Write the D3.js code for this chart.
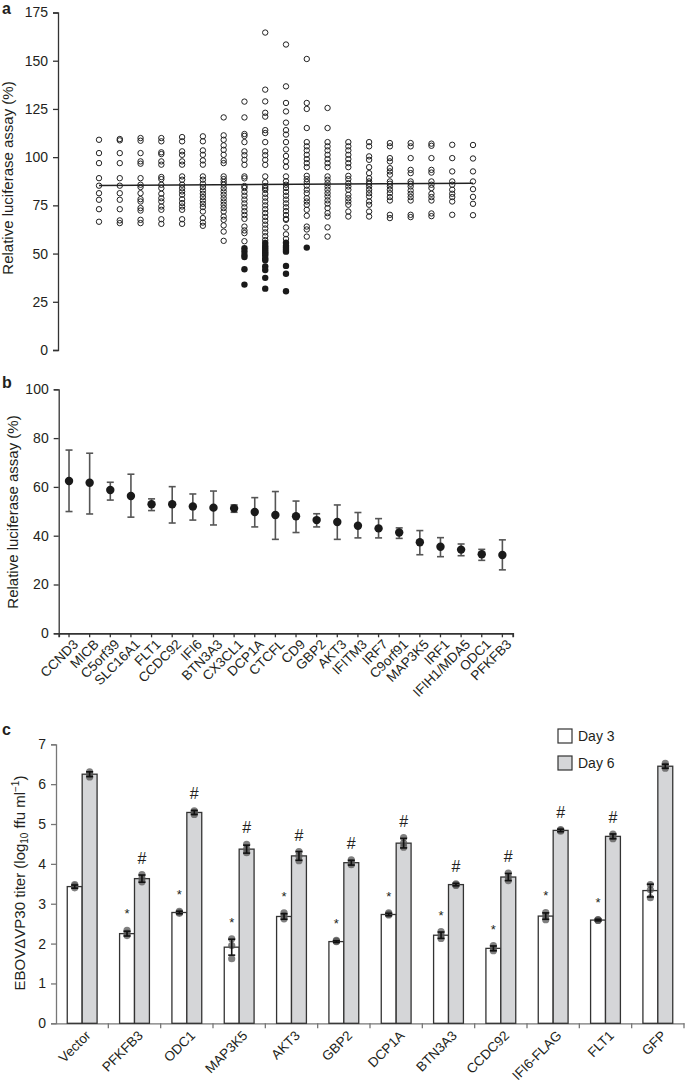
<!DOCTYPE html>
<html><head><meta charset="utf-8">
<script src="https://cdn.jsdelivr.net/npm/d3@7"></script>
<style>
body{margin:0;background:#fff;}
svg text{font-family:"Liberation Sans",Arial,Helvetica,sans-serif;fill:#231f20;}
</style></head>
<body><svg id="chart" width="685" height="1083"></svg>
<script>
// ---------- Panel a data ----------
const aTicks = [0,25,50,75,100,125,150,175];
const aOpen = [
 [109.0,102.1,96.9,89.1,85.2,81.3,77.9,73.0,66.5],
 [109.4,108.7,102.1,96.9,89.1,85.2,81.3,77.9,73.0,67.2,65.8],
 [109.9,108.5,102.1,97.8,96.6,89.1,85.7,84.5,81.3,78.2,77.0,73.6,72.3,67.5,65.8],
 [109.9,108.2,102.5,101.6,97.8,96.1,89.7,88.6,85.7,83.9,81.0,78.7,77.0,74.4,72.7,67.8,65.4],
 [110.4,108.2,103.0,101.2,97.8,96.1,90.0,88.3,85.7,83.9,82.2,80.5,78.2,76.2,74.4,72.7,67.8,65.4],
 [110.8,108.2,103.5,101.2,98.3,96.1,90.0,88.3,86.2,84.5,82.7,81.0,79.3,77.5,75.8,74.1,71.8,68.4,66.1,64.4],
 [120.6,111.3,109.0,106.1,103.8,101.2,98.3,96.9,90.0,88.6,87.1,85.7,83.9,82.2,80.5,78.7,77.0,75.3,73.6,71.8,69.2,67.5,64.6,61.4,56.6],
 [128.8,120.6,112,111,107.8,103,101,98.6,96,90,89,85,84,82,80,78,76,74,72,70,68,64,62,60.6,56.4],
 [164.6,135,128.9,123,121,114,112.5,107.8,103,101,98.6,96,90,87,85,84,83,81,79,77,75,73,71,69,67,65,63,61,59,57],
 [158.4,136.7,128.1,123.7,117.9,114,111.7,107.8,104,100.6,97.8,95,90,87.5,85.7,84,82,80,78,76,74,72,70,68,67.5,63.5,60,57.6],
 [150.9,128.1,125,115.1,107.8,105.6,103.5,101.2,99.0,96.9,94.8,90.3,88.6,87.1,85.2,83.1,81.3,78.7,77.0,75.3,72.7,69.6,64.0,62.5,58.8],
 [125.5,115.1,107.8,105.6,103.5,101.2,99.0,96.9,94.8,90,88.3,86.5,84.8,83.1,81.3,79.6,77.6,75.9,73.6,71.0,69.2,63.6,58.8],
 [107.8,105.6,103.5,101.2,99.0,96.9,94.8,90.3,88.6,86.5,84.8,83.1,80.5,78.7,77.0,75.3,71.8,69.2],
 [107.8,105.6,100.4,98.6,94.8,91.7,89.1,87.4,86.2,84.8,83.1,81.3,79.6,77.0,75.3,71.8,69.2],
 [107.3,105.6,99.5,97.8,94.3,92.6,90.9,87.4,86.2,84.8,83.1,81.3,79.3,77.5,70.1,68.4],
 [107.3,105.6,99.5,93.4,91.7,87.4,86.2,84.8,82.7,81.0,79.3,77.5,70.1,68.9],
 [107.0,105.9,99.5,93.4,92.0,87.4,85.7,84.0,81.0,79.3,77.5,70.8,69.4],
 [106.4,99.5,92.6,87.4,85.7,83.1,81.0,79.3,77.0,70.1],
 [106.3,99.3,92.6,87.4,83.4,79.4,75.8,69.9]
];
const aFilled = [
 [],[],[],[],[],[],[],
 [52.8,51.1,49.3,48.2,41.9,33.9],
 [55.5,54,53,52,51,50,49,47.5,46.5,43.3,41.5,37.4,31.8],
 [55.6,54,53,52,51,43.6,39.5,30.5],
 [53.1],
 [],[],[],[],[],[],[],[]
];
const aLineEnds = [85.3, 86.5];

// ---------- Panel b data ----------
const bGenes = ["CCND3","MICB","C5orf39","SLC16A1","FLT1","CCDC92","IFI6","BTN3A3","CX3CL1","DCP1A","CTCFL","CD9","GBP2","AKT3","IFITM3","IRF7","C9orf91","MAP3K5","IRF1","IFIH1/MDA5","ODC1","PFKFB3"];
const bMean = [62.4,61.7,58.7,56.3,52.9,52.9,52.0,51.5,51.2,49.7,48.5,48.0,46.4,45.6,44.1,43.0,41.3,37.3,35.5,34.3,32.4,32.1];
const bHigh = [75.1,73.8,61.9,65.2,55.1,60.1,57.1,58.3,52.6,55.6,58.1,54.2,49.0,52.6,49.5,47.0,43.2,42.1,39.2,36.6,34.4,38.3];
const bLow  = [49.9,48.9,54.6,47.6,50.3,45.2,46.4,44.4,49.6,43.6,38.5,41.3,43.6,38.5,39.1,39.1,38.9,32.2,31.4,31.8,29.9,26.0];
const bTicks = [0,20,40,60,80,100];

// ---------- Panel c data ----------
const cGroups = ["Vector","PFKFB3","ODC1","MAP3K5","AKT3","GBP2","DCP1A","BTN3A3","CCDC92","IFI6-FLAG","FLT1","GFP"];
const cDays = ["Day 3","Day 6"];
const cDay3 = [3.43,2.25,2.78,1.91,2.68,2.05,2.73,2.21,1.88,2.69,2.59,3.33];
const cDay6 = [6.25,3.63,5.29,4.37,4.20,4.03,4.52,3.48,3.67,4.84,4.69,6.45];
const cDay3Err = [0.04,0.06,0.03,0.2,0.07,0.02,0.03,0.08,0.06,0.08,0.02,0.16];
const cDay6Err = [0.06,0.09,0.05,0.1,0.11,0.06,0.12,0.03,0.09,0.03,0.06,0.05];
const cDay3Reps = [[3.40,3.45,3.48],[2.20,2.26,2.33],[2.76,2.78,2.81],[1.62,1.95,2.12],[2.62,2.70,2.77],[2.05,2.06,2.08],[2.72,2.74,2.77],[2.13,2.21,2.30],[1.82,1.88,1.95],[2.60,2.69,2.78],[2.58,2.59,2.60],[3.15,3.35,3.48]];
const cDay6Reps = [[6.18,6.25,6.31],[3.55,3.63,3.73],[5.24,5.29,5.33],[4.28,4.37,4.49],[4.08,4.20,4.31],[3.98,4.03,4.10],[4.42,4.52,4.66],[3.46,3.48,3.50],[3.58,3.67,3.77],[4.82,4.84,4.86],[4.63,4.69,4.75],[6.40,6.45,6.52]];
const cStar = [false,true,true,true,true,true,true,true,true,true,true,false];
const cHash = [false,true,true,true,true,true,true,true,true,true,true,false];
const cTicks = [0,1,2,3,4,5,6,7];

const svg = d3.select("#chart");
const axisCol = "#333";

function styleAxis(g, col, fs){
  g.attr("font-size", null).attr("font-family", null);
  g.selectAll("path,line").attr("stroke", col).attr("stroke-width", 1.3);
  g.selectAll("text").style("font-size", fs+"px").attr("fill","#231f20");
}

// ================= Panel a =================
{
  const y = d3.scaleLinear().domain([0,175]).range([350,12.5]);
  const x = d3.scalePoint().domain(d3.range(aOpen.length)).range([99,473]);
  const ga = svg.append("g").attr("transform","translate(58,0)")
    .call(d3.axisLeft(y).tickValues(aTicks).tickSize(5).tickPadding(5));
  styleAxis(ga, axisCol, 14);
  svg.append("text").attr("x",2).attr("y",14).style("font-size","16px").attr("font-weight","bold").text("a");
  svg.append("text").attr("transform","translate(13,178) rotate(-90)").attr("text-anchor","middle")
    .style("font-size","15px").text("Relative luciferase assay (%)");
  aOpen.forEach((col,i)=>{
    svg.append("g").selectAll("circle").data(col).join("circle")
      .attr("cx",x(i)).attr("cy",d=>y(d)).attr("r",2.7)
      .attr("fill","none").attr("stroke","#222").attr("stroke-width",1);
  });
  aFilled.forEach((col,i)=>{
    svg.append("g").selectAll("circle").data(col).join("circle")
      .attr("cx",x(i)).attr("cy",d=>y(d)).attr("r",3.2).attr("fill","#1a1a1a");
  });
  svg.append("line").attr("x1",x(0)).attr("x2",x(aOpen.length-1))
    .attr("y1",y(aLineEnds[0])).attr("y2",y(aLineEnds[1]))
    .attr("stroke","#222").attr("stroke-width",1.4);
}

// ================= Panel b =================
{
  const y = d3.scaleLinear().domain([0,100]).range([633.3,389.3]);
  const x = d3.scaleBand().domain(bGenes).range([58.7,512.7]);
  const cx = d=>x(d)+x.bandwidth()/2;
  const gy = svg.append("g").attr("transform","translate(58.7,0)")
    .call(d3.axisLeft(y).tickValues(bTicks).tickSize(5).tickPadding(5));
  styleAxis(gy, axisCol, 14);
  const gx = svg.append("g").attr("transform","translate(0,633.3)")
    .call(d3.axisBottom(x).tickSize(4).tickSizeOuter(4).tickPadding(4));
  styleAxis(gx, axisCol, 13.5);
  gx.selectAll("path").attr("stroke-width",1.8);
  gx.selectAll("text").attr("text-anchor","end").attr("dx","-0.1em").attr("dy","0.55em")
    .attr("transform","rotate(-45)");
  svg.append("text").attr("x",2).attr("y",388).style("font-size","16px").attr("font-weight","bold").text("b");
  svg.append("text").attr("transform","translate(18,512) rotate(-90)").attr("text-anchor","middle")
    .style("font-size","15px").text("Relative luciferase assay (%)");
  const g = svg.append("g");
  bGenes.forEach((gname,i)=>{
    const xc = cx(gname);
    g.append("line").attr("x1",xc).attr("x2",xc).attr("y1",y(bLow[i])).attr("y2",y(bHigh[i]))
      .attr("stroke","#555").attr("stroke-width",1.6);
    [bLow[i],bHigh[i]].forEach(v=>{
      g.append("line").attr("x1",xc-3.5).attr("x2",xc+3.5).attr("y1",y(v)).attr("y2",y(v))
        .attr("stroke","#555").attr("stroke-width",1.6);
    });
    g.append("circle").attr("cx",xc).attr("cy",y(bMean[i])).attr("r",4.2).attr("fill","#1a1a1a");
  });
}

// ================= Panel c =================
{
  const y = d3.scaleLinear().domain([0,7]).range([1023.3,744.3]);
  const x0 = d3.scaleBand().domain(cGroups).range([56,684]).paddingInner(0.43).paddingOuter(0.215);
  const x1 = d3.scaleBand().domain(cDays).range([0,x0.bandwidth()]);
  const axCol = "#777";
  const gy = svg.append("g").attr("transform","translate(56,0)")
    .call(d3.axisLeft(y).tickValues(cTicks).tickFormat(d3.format("d")).tickSize(5).tickPadding(5));
  styleAxis(gy, axCol, 14);
  const full = d3.scaleBand().domain(cGroups).range([56,684]);
  const gx = svg.append("g").attr("transform","translate(0,1023.3)")
    .call(d3.axisBottom(full).tickSize(0).tickPadding(9));
  styleAxis(gx, axCol, 13.5);
  gx.selectAll("text").attr("text-anchor","end").attr("dx","-0.2em").attr("dy","0.5em")
    .attr("transform","rotate(-45)");
  const bounds = cGroups.map(d=>full(d)).concat([full(cGroups[cGroups.length-1])+full.bandwidth()]);
  gx.selectAll("line.bt").data(bounds.slice(1)).join("line").attr("class","bt")
    .attr("x1",d=>d).attr("x2",d=>d).attr("y1",0).attr("y2",5).attr("stroke",axCol).attr("stroke-width",1.3);

  svg.append("text").attr("x",2).attr("y",735).style("font-size","16px").attr("font-weight","bold").text("c");
  const lab = svg.append("text").attr("transform","translate(25,883) rotate(-90)").attr("text-anchor","middle")
    .style("font-size","15px");
  lab.append("tspan").text("EBOV\u0394VP30 titer (log");
  lab.append("tspan").style("font-size","10px").attr("dy",3).text("10");
  lab.append("tspan").attr("dy",-3).text(" ffu ml");
  lab.append("tspan").style("font-size","10px").attr("dy",-6).text("\u22121");
  lab.append("tspan").attr("dy",6).text(")");

  const series = [
    {day:cDays[0], vals:cDay3, err:cDay3Err, reps:cDay3Reps, fill:"#ffffff", mark:cStar, sym:"*", fs:13, off:12},
    {day:cDays[1], vals:cDay6, err:cDay6Err, reps:cDay6Reps, fill:"#d5d6d8", mark:cHash, sym:"#", fs:16, off:11}
  ];
  series.forEach(s=>{
    const g = svg.append("g");
    cGroups.forEach((gn,i)=>{
      const bx = x0(gn)+x1(s.day), bw = x1.bandwidth(), xc = bx+bw/2;
      g.append("rect").attr("x",bx).attr("y",y(s.vals[i])).attr("width",bw)
        .attr("height",y(0)-y(s.vals[i])).attr("fill",s.fill).attr("stroke","#333").attr("stroke-width",1.3);
      s.reps[i].forEach(v=>{
        g.append("circle").attr("cx",xc).attr("cy",y(v)).attr("r",3.6).attr("fill","#555").attr("fill-opacity",0.75);
      });
      const lo = s.vals[i]-s.err[i], hi = s.vals[i]+s.err[i];
      g.append("line").attr("x1",xc).attr("x2",xc).attr("y1",y(lo)).attr("y2",y(hi)).attr("stroke","#111").attr("stroke-width",1.6);
      [lo,hi].forEach(v=>g.append("line").attr("x1",xc-3.5).attr("x2",xc+3.5).attr("y1",y(v)).attr("y2",y(v)).attr("stroke","#111").attr("stroke-width",1.6));
      if(s.mark[i]){
        const top = d3.max(s.reps[i].concat([hi]));
        g.append("text").attr("x",xc).attr("y",y(top)-s.off).attr("text-anchor","middle")
          .style("font-size",s.fs+"px").text(s.sym);
      }
    });
  });
  const lg = svg.append("g").attr("transform","translate(558,729)");
  [{t:cDays[0],f:"#ffffff"},{t:cDays[1],f:"#d5d6d8"}].forEach((d,i)=>{
    lg.append("rect").attr("x",0).attr("y",i*27).attr("width",14).attr("height",14)
      .attr("fill",d.f).attr("stroke","#333").attr("stroke-width",1.2);
    lg.append("text").attr("x",20).attr("y",i*27+12).style("font-size","14px").text(d.t);
  });
}
</script></body></html>
